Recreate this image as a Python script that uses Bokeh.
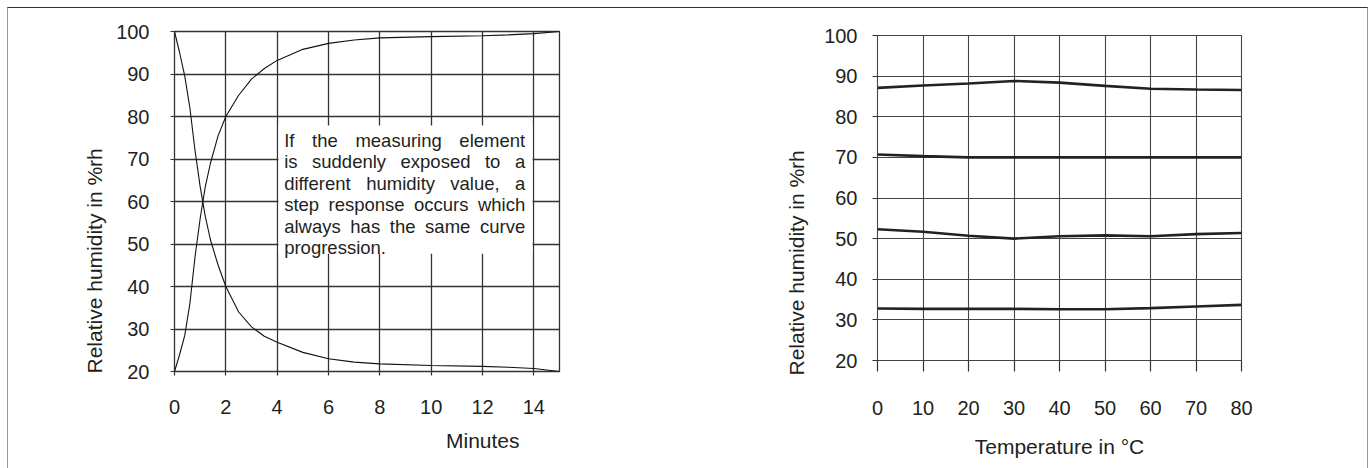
from bokeh.plotting import figure
from bokeh.models import Range1d, FixedTicker, Label, BoxAnnotation, Title
from bokeh.layouts import row, column
from bokeh.embed import file_html
from bokeh.resources import INLINE

FONT = "Liberation Sans"
TXT = "#231f20"
GRID = "#333333"

# ---------------- data: step response (left) ----------------
minutes = [0, 0.2, 0.4, 0.6, 0.8, 1.0, 1.2, 1.4, 1.7, 2.0, 2.5, 3.0, 3.5, 4, 5, 6, 7, 8, 10, 12, 13, 14, 15]
rh_rising = [20, 24, 28.5, 36, 47, 56, 63.5, 69, 75.5, 80, 85, 88.8, 91.3, 93.2, 95.8, 97.2, 98.0, 98.5, 98.8, 99.0, 99.2, 99.5, 100]
rh_falling = [100, 95, 89.5, 82, 72, 63.5, 56.5, 51, 45, 40, 34, 30.5, 28.3, 26.9, 24.5, 23.0, 22.2, 21.8, 21.4, 21.2, 21.0, 20.7, 20]
minute_ticks = [0, 2, 4, 6, 8, 10, 12, 14]
rh_ticks = [20, 30, 40, 50, 60, 70, 80, 90, 100]

BOX_TEXT = [
    "If the measuring element",
    "is suddenly exposed to a",
    "different humidity value, a",
    "step response occurs which",
    "always has the same curve",
    "progression.",
]

# ---------------- data: temperature dependence (right) ----------------
temps = [0, 10, 20, 30, 40, 50, 60, 70, 80]
rh_88 = [87.1, 87.7, 88.2, 88.8, 88.4, 87.6, 86.9, 86.7, 86.6]
rh_70 = [70.7, 70.3, 70.0, 70.0, 70.0, 70.0, 70.0, 70.0, 70.0]
rh_51 = [52.3, 51.7, 50.7, 50.0, 50.6, 50.8, 50.6, 51.1, 51.4]
rh_33 = [32.8, 32.7, 32.7, 32.7, 32.6, 32.6, 32.9, 33.3, 33.7]
temp_ticks = [0, 10, 20, 30, 40, 50, 60, 70, 80]

# Arial / Liberation Sans advance widths (1/1000 em) for text justification
ADV = {' ': 278, ',': 278, '.': 278, 'I': 278, 'a': 556, 'b': 556, 'c': 500, 'd': 556, 'e': 556,
       'f': 278, 'g': 556, 'h': 556, 'i': 222, 'j': 222, 'k': 500, 'l': 222, 'm': 833, 'n': 556,
       'o': 556, 'p': 556, 'q': 556, 'r': 333, 's': 500, 't': 278, 'u': 556, 'v': 500, 'w': 722,
       'x': 500, 'y': 500, 'z': 500}


def text_width(s, size):
    return sum(ADV.get(c, 556) for c in s) / 1000.0 * size


def style_axes(p, xtick_out, ytick_out, xstand, ystand):
    for ax in (p.xaxis[0], p.yaxis[0]):
        ax.axis_line_color = None
        ax.major_tick_line_color = GRID
        ax.major_tick_line_width = 1.2
        ax.major_tick_in = 0
        ax.minor_tick_line_color = None
        ax.major_label_text_font = FONT
        ax.major_label_text_font_size = "20px"
        ax.major_label_text_color = TXT
        ax.axis_label_text_font = FONT
        ax.axis_label_text_font_style = "normal"
        ax.axis_label_text_font_size = "21px"
        ax.axis_label_text_color = TXT
    p.xaxis[0].major_tick_out = xtick_out
    p.yaxis[0].major_tick_out = ytick_out
    p.xaxis[0].major_label_standoff = xstand
    p.yaxis[0].major_label_standoff = ystand


def side_title(text, align, offset, standoff):
    return Title(text=text, align=align, offset=offset, standoff=standoff,
                 text_font=FONT, text_font_size="21px", text_font_style="normal",
                 text_color=TXT)


# ---------------- left figure ----------------
p1 = figure(output_backend="svg", toolbar_location=None,
            x_range=Range1d(0, 15), y_range=Range1d(20, 100),
            frame_width=385, frame_height=340,
            min_border_left=166, min_border_right=69, min_border_top=23, min_border_bottom=97,
            background_fill_color="white", border_fill_color="white")
p1.outline_line_color = GRID
p1.outline_line_width = 1.3
p1.xaxis.ticker = FixedTicker(ticks=minute_ticks)
p1.yaxis.ticker = FixedTicker(ticks=rh_ticks)
p1.grid.grid_line_color = GRID
p1.grid.grid_line_width = 1.3
style_axes(p1, 4, 4, 24, 21)

p1.line(minutes, rh_rising, line_color="#111111", line_width=1.1)
p1.line(minutes, rh_falling, line_color="#111111", line_width=1.1)

box_top, box_bottom = 77.9, 47.7
p1.add_layout(BoxAnnotation(left=4.05, right=13.95, top=box_top, bottom=box_bottom,
                            fill_color="white", fill_alpha=1.0, line_color=None))
fs = 18.5
line_w = 241.0
for i, line in enumerate(BOX_TEXT):
    words = line.split(" ")
    widths = [text_width(w, fs) for w in words]
    if i < len(BOX_TEXT) - 1 and len(words) > 1:
        gap = (line_w - sum(widths)) / (len(words) - 1)
    else:
        gap = text_width(" ", fs)
    xo = 0.0
    for w, ww in zip(words, widths):
        p1.add_layout(Label(x=4, y=box_top, x_offset=7 + xo, y_offset=-(15 + 21.4 * i), text=w,
                            text_font=FONT, text_font_size="18.5px", text_color=TXT,
                            text_align="left", text_baseline="alphabetic"))
        xo += ww + gap

p1.add_layout(side_title("Minutes", "right", 40, 20), "below")
p1.add_layout(side_title("Relative humidity in %rh", "left", -2, 15), "left")

# ---------------- right figure ----------------
p2 = figure(output_backend="svg", toolbar_location=None,
            x_range=Range1d(0, 80), y_range=Range1d(20, 100),
            frame_width=364, frame_height=325,
            min_border_left=249, min_border_right=126, min_border_top=27, min_border_bottom=105,
            background_fill_color="white", border_fill_color="white")
p2.outline_line_color = "#444444"
p2.outline_line_width = 1.1
p2.xaxis.ticker = FixedTicker(ticks=temp_ticks)
p2.yaxis.ticker = FixedTicker(ticks=rh_ticks)
p2.grid.grid_line_color = "#444444"
p2.grid.grid_line_width = 1.1
style_axes(p2, 11, 5, 29, 15)
p2.xaxis.axis_label = "Temperature in °C"
p2.xaxis.axis_label_standoff = 17

for series in (rh_88, rh_70, rh_51, rh_33):
    p2.line(temps, series, line_color="#222222", line_width=2.6)

p2.add_layout(side_title("Relative humidity in %rh", "left", -15, 27), "left")

layout = row(column(p1), column(p2), spacing=0, margin=(7, 0, 0, 7),
             styles={"border-top": "1px solid #333333", "border-left": "1px solid #999999",
                     "border-right": "1px solid #999999"})

open("out.html", "w").write(file_html(layout, INLINE))
